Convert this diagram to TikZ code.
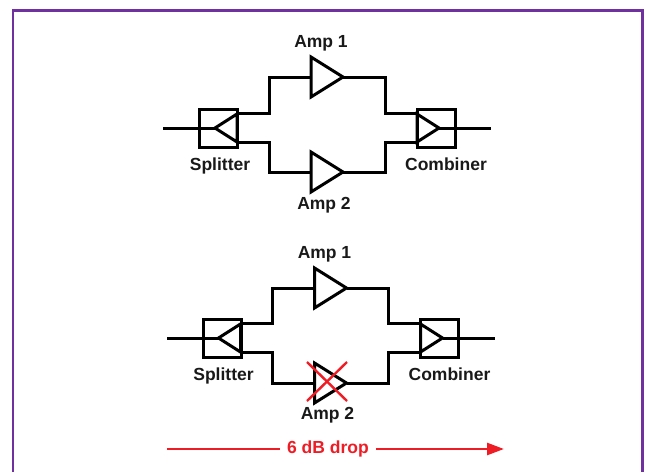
\documentclass[tikz,border=0pt]{standalone}
\usepackage{xcolor}
\usepackage{fontspec}
\setmainfont{Liberation Sans}
\usetikzlibrary{shapes.geometric,arrows.meta,positioning}
\definecolor{framepurple}{RGB}{112,48,160}
\definecolor{dropred}{RGB}{238,28,37}

\begin{document}
\begin{tikzpicture}[
  x=1pt, y=-1pt,
  font=\fontsize{17.5}{20}\selectfont\bfseries,
  lbl/.style={inner sep=0pt, text=black!90},
  hybrid/.style={draw, line width=3pt, minimum width=38pt, minimum height=38pt, inner sep=0pt},
  amp/.style={draw, line width=3pt, isosceles triangle, isosceles triangle apex angle=64,
              minimum height=32pt, inner sep=0pt, outer sep=0pt, anchor=lower side},
  inner amp/.style={draw, line width=3pt, isosceles triangle, isosceles triangle apex angle=65,
              minimum height=22pt, inner sep=0pt, outer sep=0pt, anchor=lower side},
  wire/.style={line width=3pt, miter limit=4},
  drop/.style={line width=2.6pt, draw=dropred},
  cross/.style={line width=2.4pt, draw=dropred}
]
\useasboundingbox (0,0) rectangle (646,472);
\draw[framepurple, line width=2.6pt] (13,472) -- (13,10.5) -- (642.5,10.5) -- (642.5,472);

% upper network
\node[hybrid] (spla) at (218.5,128) {};
\node[inner amp, shape border rotate=180] (sta) at (237,128) {};
\node[hybrid] (coma) at (436,128) {};
\node[inner amp] (cta) at (417,128) {};
\node[amp] (a1a) at (311,77) {};
\node[amp] (a2a) at (311,172) {};
\coordinate (ina) at (163,128);
\coordinate (outa) at (491,128);

\node[lbl, above=6pt of a1a.left corner, xshift=10pt] {Amp 1};
\node[lbl, below=5pt of a2a.right corner, xshift=13pt] {Amp 2};
\node[lbl, below=9pt of spla, xshift=1.5pt] {Splitter};
\node[lbl, below=9pt of coma, xshift=10pt] {Combiner};

\draw[wire] (ina) -- (sta.apex);
\draw[wire] (cta.apex) -- (outa);
\draw[wire] (sta.right corner) -- ++(32,0) |- (a1a.lower side);
\draw[wire] (sta.left corner) -- ++(32,0) |- (a2a.lower side);
\draw[wire] (a1a.apex) -- ++(42,0) |- (cta.left corner);
\draw[wire] (a2a.apex) -- ++(42,0) |- (cta.right corner);

% lower network, one amplifier lost
\node[hybrid] (splb) at (222,338) {};
\node[inner amp, shape border rotate=180] (stb) at (240.5,338) {};
\node[hybrid] (comb) at (439.5,338) {};
\node[inner amp] (ctb) at (420.5,338) {};
\node[amp] (a1b) at (314.5,288) {};
\node[amp] (a2b) at (314.5,383) {};
\coordinate (inb) at (167,338);
\coordinate (outb) at (494.5,338);

\node[lbl, above=6pt of a1b.left corner, xshift=10pt] {Amp 1};
\node[lbl, below=4pt of a2b.right corner, xshift=13pt] {Amp 2};
\node[lbl, below=9pt of splb, xshift=1.5pt] {Splitter};
\node[lbl, below=9pt of comb, xshift=10pt] {Combiner};

\draw[wire] (inb) -- (stb.apex);
\draw[wire] (ctb.apex) -- (outb);
\draw[wire] (stb.right corner) -- ++(32,0) |- (a1b.lower side);
\draw[wire] (stb.left corner) -- ++(32,0) |- (a2b.lower side);
\draw[wire] (a1b.apex) -- ++(42,0) |- (ctb.left corner);
\draw[wire] (a2b.apex) -- ++(42,0) |- (ctb.right corner);

\coordinate (xa) at (307,362);
\coordinate (xb) at (347,401);
\coordinate (xc) at (347,362);
\coordinate (xd) at (307,401);
\draw[cross] (xa) -- (xb);
\draw[cross] (xc) -- (xd);

% level drop arrow
\node[lbl, text=dropred, inner xsep=7pt] (dropt) at (328,449) {6 dB drop};
\coordinate (dropl) at (167,449);
\coordinate (dropr) at (504,449);
\draw[drop] (dropl) -- (dropt);
\draw[drop, -{Triangle[length=17pt,width=12pt]}] (dropt) -- (dropr);
\end{tikzpicture}
\end{document}
